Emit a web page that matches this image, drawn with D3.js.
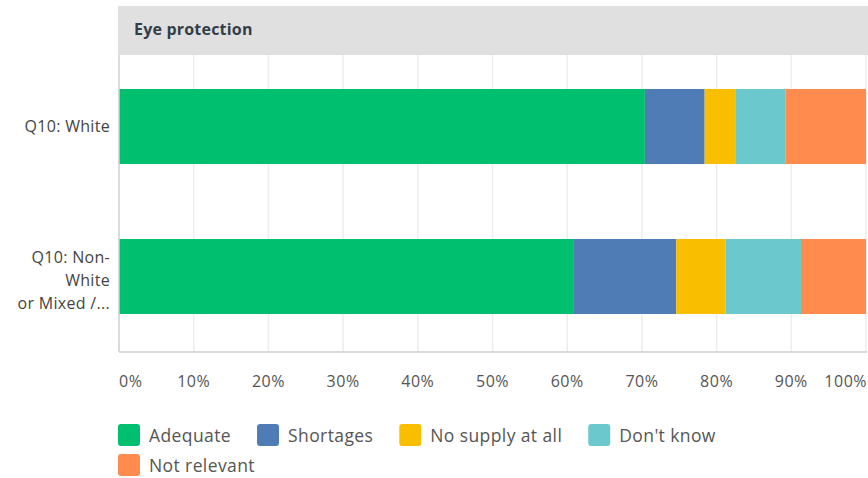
<!DOCTYPE html>
<html><head><meta charset="utf-8">
<script src="https://cdn.jsdelivr.net/npm/d3@7"></script>
<style>body{margin:0;background:#fff;} text{font-family:"Open Sans",Roboto,sans-serif;}</style>
</head><body>
<svg id="c" width="868" height="478"></svg>
<script>
const title = "Eye protection";
const categories = ["Q10: White", "Q10: Non-White or Mixed /..."];
const categoryLines = [["Q10: White"], ["Q10: Non-", "White", "or Mixed /..."]];
const seriesNames = ["Adequate", "Shortages", "No supply at all", "Don't know", "Not relevant"];
const seriesColors = ["#00bf6f", "#507cb6", "#f9be00", "#6bc8cd", "#ff8b4f"];
const adequate = [70.4, 60.9];
const shortages = [8.0, 13.7];
const noSupply = [4.1, 6.6];
const dontKnow = [6.7, 10.1];
const notRelevant = [10.8, 8.7];
const tickValues = [0, 10, 20, 30, 40, 50, 60, 70, 80, 90, 100];

const svg = d3.select("#c");
const left = 119, right = 866;
const x = d3.scaleLinear().domain([0, 100]).range([left, right]);
const y = d3.scaleBand().domain(categories).range([51.5, 351.5]).paddingInner(0.5).paddingOuter(0.25);

// title bar
svg.append("rect").attr("x", 118).attr("y", 6).attr("width", 750).attr("height", 49).attr("fill", "#e0e0e0");
svg.append("text").attr("x", 134).attr("y", 35).attr("font-size", 16).attr("letter-spacing", 0.2)
  .attr("font-weight", "bold").attr("fill", "#333e48").text(title);

// grid
svg.append("g").selectAll("line").data(tickValues.slice(1)).join("line")
  .attr("x1", d => x(d)).attr("x2", d => x(d)).attr("y1", 55).attr("y2", 352)
  .attr("stroke", "#ededed").attr("stroke-width", 1.5);

// stacked data
const rows = categories.map((c, i) => ({cat: c, vals: [adequate[i], shortages[i], noSupply[i], dontKnow[i], notRelevant[i]]}));
rows.forEach(r => {
  let acc = 0;
  r.segs = r.vals.map((v, k) => { const s = {k, x0: acc, x1: acc + v}; acc += v; return s; });
});
svg.append("g").selectAll("g").data(rows).join("g")
  .selectAll("rect").data(r => r.segs.map(s => ({...s, cat: r.cat}))).join("rect")
  .attr("x", d => x(d.x0)).attr("width", d => Math.max(0, x(Math.min(100, d.x1)) - x(d.x0)))
  .attr("y", d => y(d.cat)).attr("height", y.bandwidth())
  .attr("fill", d => seriesColors[d.k]);

// axes lines
svg.append("line").attr("x1", left).attr("x2", left).attr("y1", 55).attr("y2", 352).attr("stroke", "#cfcfcf").attr("stroke-width", 1.5);
svg.append("line").attr("x1", left).attr("x2", 867).attr("y1", 352).attr("y2", 352).attr("stroke", "#cfcfcf").attr("stroke-width", 1.5);

// x tick labels
svg.append("g").selectAll("text").data(tickValues).join("text")
  .attr("x", d => d === 100 ? x(d) + 1 : x(d))
  .attr("y", 387).attr("font-size", 16).attr("letter-spacing", 0.5).attr("fill", "#555")
  .attr("text-anchor", d => d === 0 ? "start" : (d === 100 ? "end" : "middle"))
  .text(d => d + "%");

// category labels
categories.forEach((c, i) => {
  const lines = categoryLines[i];
  const cy = y(c) + y.bandwidth() / 2 + (lines.length > 1 ? 4 : 0);
  const lh = 23;
  const t = svg.append("text").attr("text-anchor", "end").attr("font-size", 16).attr("letter-spacing", 0.3).attr("fill", "#444");
  lines.forEach((l, j) => {
    t.append("tspan").attr("x", 110).attr("y", cy + (j - (lines.length - 1) / 2) * lh + 5.5).text(l);
  });
});

// legend
const lg = svg.append("g");
let lx = 118, ly = 424;
seriesNames.forEach((n, k) => {
  const g = lg.append("g");
  const t = g.append("text").attr("font-size", 17.5).attr("letter-spacing", 0.4).attr("fill", "#555").text(n);
  const w = t.node().getComputedTextLength();
  if (lx + 31 + w > 760) { lx = 118; ly += 30; }
  g.append("rect").attr("x", lx).attr("y", ly).attr("width", 22).attr("height", 22).attr("rx", 3).attr("fill", seriesColors[k]);
  t.attr("x", lx + 31).attr("y", ly + 17.5);
  lx += 31 + w + 26;
});
</script>
</body></html>
